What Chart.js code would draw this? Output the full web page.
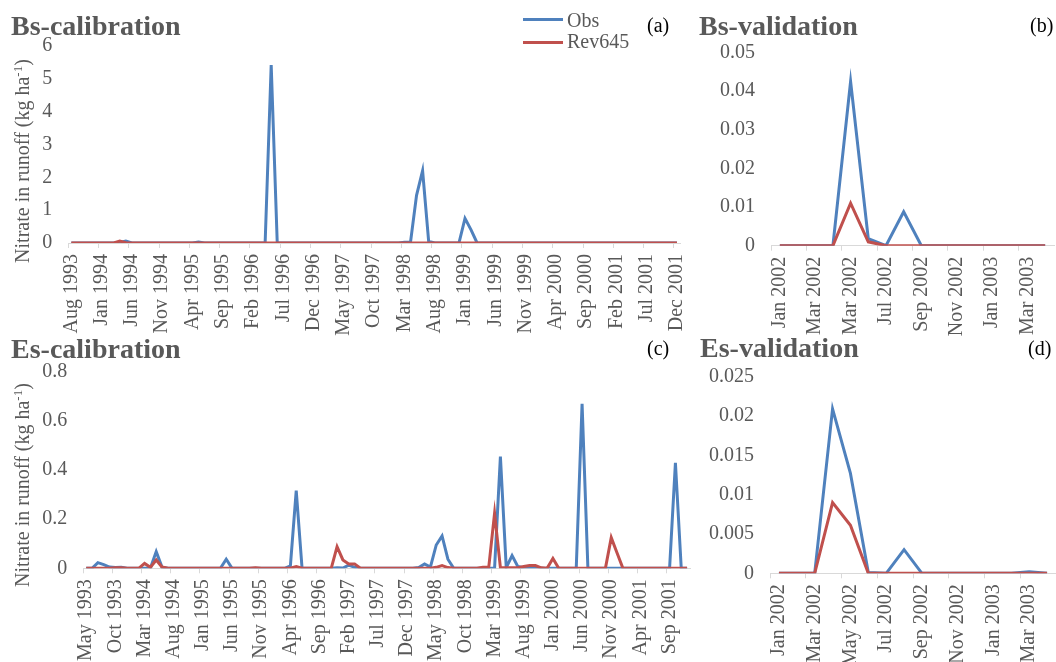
<!DOCTYPE html>
<html>
<head>
<meta charset="utf-8">
<script src="https://cdn.jsdelivr.net/npm/chart.js@4.4.1/dist/chart.umd.min.js"></script>
<style>
    body { margin: 0; background: #fff; }
    #page { position: relative; width: 1056px; height: 662px; overflow: hidden; font-family: "Liberation Serif", "Times New Roman", serif; }
    canvas { position: absolute; }
    .title { position: absolute; font-size: 28px; font-weight: bold; color: #595959; line-height: 1; white-space: nowrap; }
    .tag { position: absolute; font-size: 20px; color: #000; line-height: 1; }
    .ytitle { position: absolute; font-size: 20px; color: #595959; white-space: nowrap; line-height: 1; transform: translate(-50%, -50%) rotate(-90deg); }
    .ytitle sup { font-size: 13px; vertical-align: 7px; line-height: 0; }
    .legend-line { position: absolute; height: 3px; width: 40px; }
    .legend-text { position: absolute; font-size: 20px; color: #595959; line-height: 1; }
</style>
</head>
<body>
<div id="page">
    <canvas id="chartA" width="690" height="345" style="left:0;top:0"></canvas>
    <canvas id="chartB" width="366" height="345" style="left:690px;top:0"></canvas>
    <canvas id="chartC" width="700" height="332" style="left:0;top:330px"></canvas>
    <canvas id="chartD" width="366" height="332" style="left:690px;top:330px"></canvas>

    <div class="title" style="left:11px;top:11.5px">Bs-calibration</div>
    <div class="title" style="left:699px;top:11.5px">Bs-validation</div>
    <div class="title" style="left:11px;top:335px">Es-calibration</div>
    <div class="title" style="left:700px;top:334px">Es-validation</div>

    <div class="tag" style="left:647px;top:14.5px">(a)</div>
    <div class="tag" style="left:1030px;top:14.5px">(b)</div>
    <div class="tag" style="left:647px;top:338px">(c)</div>
    <div class="tag" style="left:1028px;top:338px">(d)</div>

    <div class="ytitle" style="left:22px;top:161px">Nitrate in runoff (kg ha<sup>-1</sup>)</div>
    <div class="ytitle" style="left:22px;top:485px">Nitrate in runoff (kg ha<sup>-1</sup>)</div>

    <div class="legend-line" style="left:523px;top:18px;background:#4F81BD"></div>
    <div class="legend-text" style="left:567px;top:10px">Obs</div>
    <div class="legend-line" style="left:523px;top:40.5px;background:#C0504D"></div>
    <div class="legend-text" style="left:567px;top:31px">Rev645</div>
</div>

<script>
// Month categories
const MONTHS = ['Jan', 'Feb', 'Mar', 'Apr', 'May', 'Jun', 'Jul', 'Aug', 'Sep', 'Oct', 'Nov', 'Dec'];

function monthRange(startMonth, startYear, count) {
    const out = [];
    let m = MONTHS.indexOf(startMonth);
    let y = startYear;
    for (let i = 0; i < count; i++) {
        out.push(MONTHS[m] + ' ' + y);
        m++;
        if (m > 11) { m = 0; y++; }
    }
    return out;
}

// (a) Bs-calibration, Aug 1993 - Dec 2001
const bsCalMonths = monthRange('Aug', 1993, 101);
const bsCalTicks = ['Aug 1993', 'Jan 1994', 'Jun 1994', 'Nov 1994', 'Apr 1995', 'Sep 1995', 'Feb 1996',
    'Jul 1996', 'Dec 1996', 'May 1997', 'Oct 1997', 'Mar 1998', 'Aug 1998', 'Jan 1999', 'Jun 1999',
    'Nov 1999', 'Apr 2000', 'Sep 2000', 'Feb 2001', 'Jul 2001', 'Dec 2001'];
const bsCalObs = [
    0, 0, 0, 0, 0, 0, 0, 0, 0.02, 0.06,
    0, 0, 0, 0, 0, 0, 0, 0, 0, 0,
    0, 0.03, 0, 0, 0, 0, 0, 0, 0, 0,
    0, 0, 0, 5.42, 0, 0, 0, 0, 0, 0,
    0, 0, 0, 0, 0, 0, 0, 0, 0, 0,
    0, 0, 0, 0, 0, 0.02, 0.02, 1.45, 2.2, 0.05,
    0, 0, 0, 0, 0, 0.75, 0.4, 0, 0, 0,
    0, 0, 0, 0, 0, 0, 0, 0, 0, 0,
    0, 0, 0, 0, 0, 0, 0, 0, 0, 0,
    0, 0, 0, 0, 0, 0, 0, 0, 0, 0,
    0
];
const bsCalRev = [
    0, 0, 0, 0, 0, 0, 0, 0, 0.06, 0.01,
    0, 0, 0, 0, 0, 0, 0, 0, 0, 0,
    0, 0, 0, 0, 0, 0, 0, 0, 0, 0,
    0, 0, 0, 0, 0, 0, 0, 0, 0, 0,
    0, 0, 0, 0, 0, 0, 0, 0, 0, 0,
    0, 0, 0, 0, 0, 0, 0, 0, 0, 0,
    0, 0, 0, 0, 0, 0, 0, 0, 0, 0,
    0, 0, 0, 0, 0, 0, 0, 0, 0, 0,
    0, 0, 0, 0, 0, 0, 0, 0, 0, 0,
    0, 0, 0, 0, 0, 0, 0, 0, 0, 0,
    0
];

// (b) Bs-validation, Jan 2002 - Apr 2003
const bsValMonths = monthRange('Jan', 2002, 16);
const bsValTicks = ['Jan 2002', 'Mar 2002', 'Mar 2002', 'Jul 2002', 'Sep 2002', 'Nov 2002', 'Jan 2003', 'Mar 2003'];
const bsValObs = [0, 0, 0, 0, 0.0425, 0.0018, 0, 0.0088, 0, 0, 0, 0, 0, 0, 0, 0];
const bsValRev = [0, 0, 0, 0, 0.011, 0.001, 0, 0, 0, 0, 0, 0, 0, 0, 0, 0];

// (c) Es-calibration, May 1993 - Dec 2001
const esCalMonths = monthRange('May', 1993, 104);
const esCalTicks = ['May 1993', 'Oct 1993', 'Mar 1994', 'Aug 1994', 'Jan 1995', 'Jun 1995', 'Nov 1995',
    'Apr 1996', 'Sep 1996', 'Feb 1997', 'Jul 1997', 'Dec 1997', 'May 1998', 'Oct 1998', 'Mar 1999',
    'Aug 1999', 'Jan 2000', 'Jun 2000', 'Nov 2000', 'Apr 2001', 'Sep 2001'];
const esCalObs = [
    0, 0, 0.023, 0.015, 0.005, 0.003, 0.004, 0, 0, 0,
    0, 0, 0.068, 0.004, 0, 0, 0, 0, 0, 0,
    0, 0, 0, 0, 0.037, 0, 0, 0, 0, 0,
    0, 0, 0, 0, 0, 0.01, 0.317, 0, 0, 0,
    0, 0, 0, 0.002, 0.001, 0.013, 0.004, 0, 0, 0,
    0, 0, 0, 0, 0, 0, 0, 0.003, 0.018, 0.005,
    0.095, 0.132, 0.037, 0, 0, 0, 0, 0, 0, 0,
    0, 0.455, 0.003, 0.052, 0.007, 0.002, 0.003, 0.002, 0, 0,
    0, 0, 0, 0, 0, 0.67, 0, 0, 0, 0,
    0, 0, 0, 0, 0, 0, 0, 0, 0, 0,
    0, 0.43, 0, 0
];
const esCalRev = [
    0, 0, 0, 0, 0, 0.002, 0.002, 0, 0, 0,
    0.02, 0.004, 0.034, 0.005, 0, 0, 0, 0, 0, 0,
    0, 0, 0, 0, 0, 0, 0, 0, 0, 0.002,
    0, 0, 0, 0, 0, 0, 0.007, 0, 0, 0,
    0, 0, 0, 0.088, 0.034, 0.018, 0.018, 0, 0, 0,
    0, 0, 0, 0, 0, 0, 0, 0, 0, 0,
    0.004, 0.011, 0.003, 0, 0, 0, 0, 0, 0.004, 0.004,
    0.224, 0.003, 0.002, 0.002, 0.002, 0.007, 0.011, 0.011, 0.002, 0,
    0.04, 0, 0, 0, 0, 0, 0, 0, 0, 0,
    0.125, 0.062, 0, 0, 0, 0, 0, 0, 0, 0,
    0, 0, 0, 0
];

// (d) Es-validation, Jan 2002 - Apr 2003
const esValMonths = monthRange('Jan', 2002, 16);
const esValTicks = ['Jan 2002', 'Mar 2002', 'May 2002', 'Jul 2002', 'Sep 2002', 'Nov 2002', 'Jan 2003', 'Mar 2003'];
const esValObs = [0, 0, 0, 0.0209, 0.0127, 0.0001, 0, 0.003, 0, 0, 0, 0, 0, 0, 0.0002, 0];
const esValRev = [0, 0, 0, 0.009, 0.0061, 0, 0, 0, 0, 0, 0, 0, 0, 0, 0, 0];

const OBS_COLOR = '#4F81BD';
const REV_COLOR = '#C0504D';
const TEXT_COLOR = '#595959';
const AXIS_COLOR = '#D9D9D9';

Chart.defaults.font.family = '"Liberation Serif", "Times New Roman", serif';
Chart.defaults.font.size = 20;
Chart.defaults.color = TEXT_COLOR;

// Builds one panel; box holds the plot area placement inside its canvas
function makePanel(canvasId, months, obs, rev, tickLabels, step, yMax, yStep, box) {
    const ctx = document.getElementById(canvasId);
    return new Chart(ctx, {
        type: 'line',
        data: {
            labels: months,
            datasets: [
                { label: 'Obs', data: obs, borderColor: OBS_COLOR, borderWidth: 3, pointRadius: 0, tension: 0, order: 1 },
                { label: 'Rev645', data: rev, borderColor: REV_COLOR, borderWidth: 3, pointRadius: 0, tension: 0, order: 0 }
            ]
        },
        options: {
            responsive: false,
            animation: false,
            devicePixelRatio: 1,
            layout: {
                padding: { left: box.padLeft, right: box.padRight, top: box.padTop, bottom: 0 }
            },
            plugins: {
                legend: { display: false },
                tooltip: { enabled: false }
            },
            scales: {
                x: {
                    type: 'category',
                    offset: true,
                    grid: {
                        offset: true,
                        drawOnChartArea: false,
                        drawTicks: true,
                        tickLength: 5,
                        color: function(c) { return c.index % step === 0 ? AXIS_COLOR : 'transparent'; }
                    },
                    border: { display: true, color: AXIS_COLOR, width: 1 },
                    ticks: {
                        autoSkip: false,
                        minRotation: 90,
                        maxRotation: 90,
                        padding: 6,
                        color: TEXT_COLOR,
                        callback: function(value, index) {
                            return index % step === 0 ? tickLabels[index / step] : '';
                        }
                    },
                    afterFit: function(scale) {
                        scale.height = box.xHeight;
                        // keep the plot area where the layout puts it
                        scale.paddingLeft = 0;
                        scale.paddingRight = 0;
                    }
                },
                y: {
                    min: 0,
                    max: yMax,
                    grid: { display: false, drawTicks: false },
                    border: { display: false },
                    ticks: {
                        stepSize: yStep,
                        padding: 16,
                        color: TEXT_COLOR,
                        callback: function(value) { return String(parseFloat(value.toFixed(4))); }
                    },
                    afterFit: function(scale) {
                        scale.width = box.yWidth;
                        scale.paddingTop = 0;
                        scale.paddingBottom = 0;
                    }
                }
            }
        }
    });
}

document.addEventListener('DOMContentLoaded', function() {
    // Chart 1: Bs-calibration
    makePanel('chartA', bsCalMonths, bsCalObs, bsCalRev, bsCalTicks, 5, 6, 1,
        { padLeft: 30, padRight: 10, padTop: 46, yWidth: 38.3, xHeight: 102 });

    // Chart 2: Bs-validation
    makePanel('chartB', bsValMonths, bsValObs, bsValRev, bsValTicks, 2, 0.05, 0.01,
        { padLeft: 10, padRight: 2, padTop: 52.5, yWidth: 71, xHeight: 99.3 });

    // Chart 3: Es-calibration
    makePanel('chartC', esCalMonths, esCalObs, esCalRev, esCalTicks, 5, 0.8, 0.2,
        { padLeft: 30, padRight: 10, padTop: 42, yWidth: 53.3, xHeight: 93.7 });

    // Chart 4: Es-validation
    makePanel('chartD', esValMonths, esValObs, esValRev, esValTicks, 2, 0.025, 0.005,
        { padLeft: 10, padRight: 0, padTop: 46.7, yWidth: 70, xHeight: 88.7 });
});
</script>
</body>
</html>
